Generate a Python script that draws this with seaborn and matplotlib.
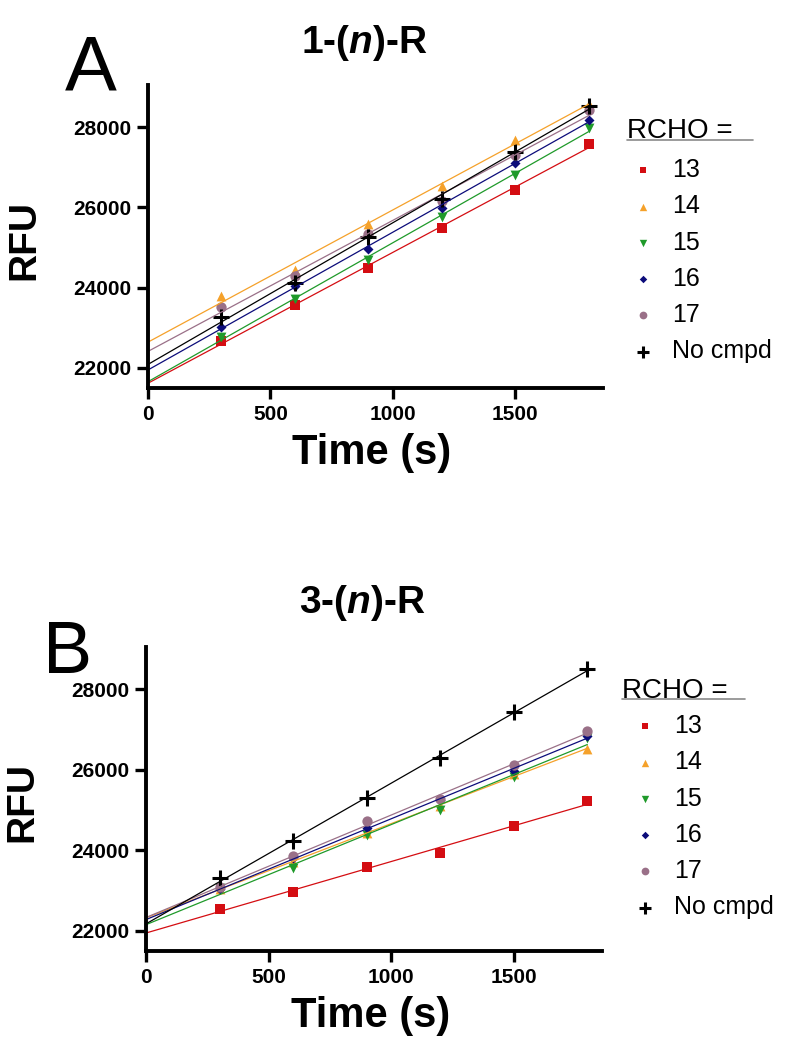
import numpy as np
import pandas as pd
import matplotlib.pyplot as plt
import seaborn as sns
from matplotlib.lines import Line2D

sns.set_theme(style="ticks")
plt.rcParams["font.family"] = ["Liberation Sans", "DejaVu Sans"]
plt.rcParams["mathtext.fontset"] = "custom"
plt.rcParams["mathtext.it"] = "Liberation Sans:italic:bold"
plt.rcParams["mathtext.rm"] = "Liberation Sans:bold"
plt.rcParams["text.color"] = "black"
plt.rcParams["axes.labelcolor"] = "black"

# time points (s)
time_s = [300, 600, 900, 1200, 1500, 1800]
series = ["13", "14", "15", "16", "17", "No cmpd"]

# panel A: 1-(n)-R, RFU
a_13 = [22660, 23580, 24490, 25490, 26440, 27590]
a_14 = [23800, 24440, 25580, 26530, 27670, 28590]
a_15 = [22780, 23720, 24700, 25760, 26800, 27990]
a_16 = [23030, 24030, 24970, 25990, 27120, 28180]
a_17 = [23530, 24300, 25330, 26160, 27300, 28420]
a_none = [23260, 24110, 25270, 26220, 27380, 28520]

# panel B: 3-(n)-R
b_13 = [22540, 22970, 23590, 23940, 24600, 25220]
b_14 = [23050, 23700, 24420, 25110, 25890, 26510]
b_15 = [23060, 23550, 24370, 24990, 25810, 26800]
b_16 = [23030, 23800, 24550, 25250, 25980, 26840]
b_17 = [23090, 23850, 24720, 25280, 26120, 26960]
b_none = [23300, 24220, 25290, 26300, 27430, 28510]

colors = ["#d40d12", "#f5a12a", "#1f9a2a", "#0c0c7a", "#9a7088", "black"]
markers = ["s", "^", "v", "D", "o", "+"]
sizes = [42, 50, 50, 26, 55, 120]

panels = [
    ("A", "1-($n$)-R", [a_13, a_14, a_15, a_16, a_17, a_none]),
    ("B", "3-($n$)-R", [b_13, b_14, b_15, b_16, b_17, b_none]),
]

fig = plt.figure(figsize=(8, 10.48), dpi=100)
ax_a = fig.add_axes([0.185, 0.6298, 0.569, 0.289])
ax_b = fig.add_axes([0.1825, 0.0926, 0.570, 0.290])

# positions in pixels from top-left
letter_pos = [(65, 90, 56), (43, 673, 53)]
title_pos = [(364, 53), (362, 613)]
rcho_pos = [(627, 138), (622, 698)]
legend_pos = [(630, 158), (632, 714)]
underline = [(627, 753, 140), (622, 745, 699)]

for i, (ax, (letter, title, values)) in enumerate(zip([ax_a, ax_b], panels)):
    ax.set_xlim(0, 1800)
    for name, y, c, m, s in zip(series, values, colors, markers, sizes):
        df = pd.DataFrame({"time": time_s, "rfu": y})
        sns.regplot(data=df, x="time", y="rfu", ax=ax, ci=None, truncate=False,
                    marker=m, color=c, label=name,
                    scatter_kws={"s": s, "alpha": 1,
                                 "linewidths": 2.2 if m == "+" else 0},
                    line_kws={"lw": 0.9})
    ax.set_xlim(0, 1860)
    ax.set_ylim(21500, 29050)
    ax.set_xticks([0, 500, 1000, 1500])
    ax.set_yticks([22000, 24000, 26000, 28000])
    sns.despine(ax=ax)
    for sp in ["left", "bottom"]:
        ax.spines[sp].set_linewidth(2.8)
        ax.spines[sp].set_color("black")
    ax.tick_params(width=2.4, length=8, pad=4, color="black", labelcolor="black")
    for lab in ax.get_xticklabels() + ax.get_yticklabels():
        lab.set_fontsize(15)
        lab.set_fontweight("bold")
    ax.set_xlabel("Time (s)", fontsize=30, fontweight="bold")
    ax.set_ylabel("RFU", fontsize=28, fontweight="bold")
    ax.xaxis.set_label_coords(0.492, -0.148)
    ax.yaxis.set_label_coords(-0.232, 0.49)

    lx, ly, lsize = letter_pos[i]
    fig.text(lx / 800, 1 - ly / 1048, letter, fontsize=lsize, va="baseline")
    tx, ty = title_pos[i]
    fig.text(tx / 800, 1 - ty / 1048, title, fontsize=28, fontweight="bold",
             ha="center", va="baseline")

    rx, ry = rcho_pos[i]
    fig.text(rx / 800, 1 - ry / 1048, "RCHO =", fontsize=20, va="baseline")
    x0, x1, uy = underline[i]
    fig.add_artist(Line2D([x0 / 800, x1 / 800], [1 - uy / 1048] * 2,
                          transform=fig.transFigure, color="#8a8a8a", lw=1.2))

    gx, gy = legend_pos[i]
    ax.legend(loc="upper left", bbox_to_anchor=(gx / 800, 1 - gy / 1048),
              bbox_transform=fig.transFigure, frameon=False, fontsize=18,
              markerscale=0.75, handlelength=1.0, handletextpad=0.7,
              labelspacing=0.49, borderpad=0, borderaxespad=0)

fig.savefig("out.png", dpi=100)
